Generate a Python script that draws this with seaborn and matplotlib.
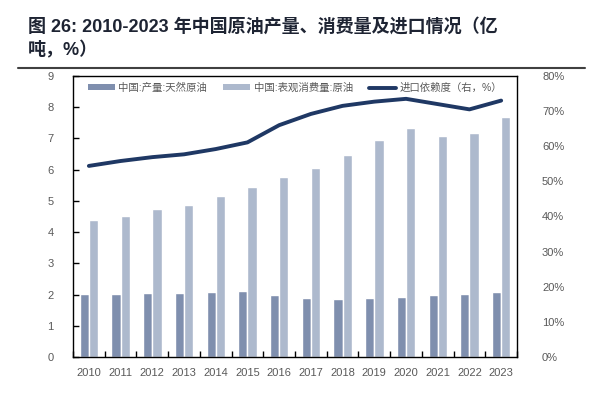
import numpy as np
import pandas as pd
import seaborn as sns
import matplotlib.pyplot as plt
from matplotlib.patches import Patch
from matplotlib.lines import Line2D

# data
years = [str(y) for y in range(2010, 2024)]
production = [2.01, 2.01, 2.05, 2.05, 2.09, 2.11, 1.98, 1.89, 1.87, 1.89, 1.93, 1.98, 2.02, 2.07]
consumption = [4.39, 4.53, 4.74, 4.86, 5.17, 5.46, 5.76, 6.04, 6.46, 6.94, 7.33, 7.09, 7.16, 7.70]
import_dep = [54.4, 55.8, 56.9, 57.7, 59.2, 61.1, 66.0, 69.2, 71.5, 72.7, 73.5, 72.0, 70.5, 73.0]

name_prod = "中国:产量:天然原油"
name_cons = "中国:表观消费量:原油"
name_dep = "进口依赖度（右，%）"

sns.set_theme(style="white")
plt.rcParams['font.family'] = ['Liberation Sans', 'Noto Sans CJK SC', 'DejaVu Sans']

c_prod = "#7f8fae"
c_cons = "#adb9cd"
c_line = "#1f3864"
gray = "#595959"

df = pd.DataFrame({
    "year": years * 2,
    "value": production + consumption,
    "series": [name_prod] * len(years) + [name_cons] * len(years),
})

fig = plt.figure(figsize=(6, 3.95), dpi=100)
ax = fig.add_axes([0.1217, 0.0962, 0.74, 0.7114])

sns.barplot(data=df, x="year", y="value", hue="series", order=years,
            hue_order=[name_prod, name_cons], palette=[c_prod, c_cons],
            width=0.58, saturation=1, ax=ax, legend=False)

ax.set_xlim(-0.5, len(years) - 0.5)
ax.set_ylim(0, 9)
ax.set_yticks(range(0, 10))
ax.set_xlabel("")
ax.set_ylabel("")
for s in ax.spines.values():
    s.set_color("black")
    s.set_linewidth(1.0)
ax.tick_params(axis="y", direction="in", length=4, width=1, colors="black",
               labelcolor=gray, labelsize=8, pad=14, left=True)
ax.tick_params(axis="x", which="major", length=0, labelcolor=gray, labelsize=8, pad=8)
ax.set_xticks(np.arange(-0.5, len(years), 1.0), minor=True)
ax.tick_params(axis="x", which="minor", direction="in", length=4, width=1,
               colors="black", bottom=True)

ax2 = ax.twinx()
sns.lineplot(x=np.arange(len(years)), y=import_dep, color=c_line, linewidth=2.8,
             ax=ax2, legend=False)
ax2.set_ylim(0, 80)
ax2.set_yticks(range(0, 81, 10))
ax2.set_yticklabels([f"{v}%" for v in range(0, 81, 10)])
ax2.tick_params(axis="y", length=0, labelcolor=gray, labelsize=8, pad=18)
for s in ax2.spines.values():
    s.set_visible(False)

handles = [Patch(facecolor=c_prod, edgecolor="none"),
           Patch(facecolor=c_cons, edgecolor="none"),
           Line2D([0], [0], color=c_line, linewidth=2.8)]
leg = ax2.legend(handles, [name_prod, name_cons, name_dep], loc="upper center",
                 bbox_to_anchor=(0.5, 1.01), ncol=3, frameon=False, fontsize=7.5,
                 handlelength=2.6, handleheight=0.45, columnspacing=1.6,
                 handletextpad=0.3)
for t in leg.get_texts():
    t.set_color(gray)

# title
title_kw = dict(fontsize=13, fontweight="bold", color="#1e2433", ha="left", va="center")
fig.text(28 / 600, 1 - 27 / 395, "图 26: 2010-2023 年中国原油产量、消费量及进口情况（亿", **title_kw)
fig.text(28 / 600, 1 - 50 / 395, "吨，%）", **title_kw)
fig.add_artist(Line2D([18 / 600, 585 / 600], [1 - 68 / 395, 1 - 68 / 395],
                      color="#404040", linewidth=1.5, transform=fig.transFigure))

fig.savefig("out.png", dpi=100)
